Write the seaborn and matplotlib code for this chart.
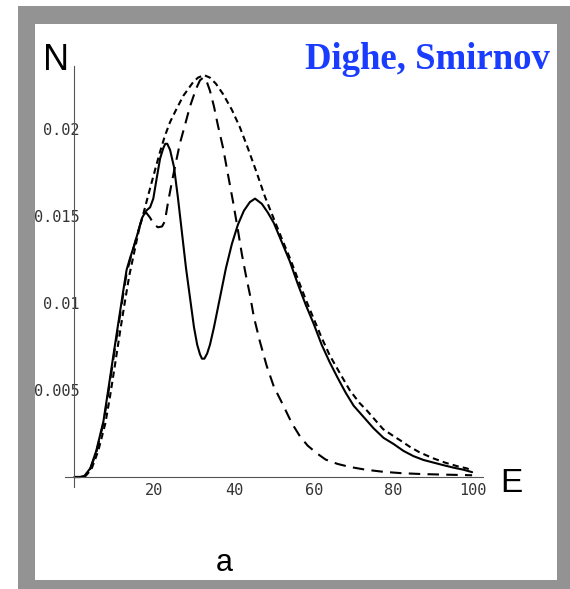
import matplotlib
matplotlib.use("Agg")
import matplotlib.pyplot as plt
from matplotlib.patches import Rectangle
from matplotlib.ticker import MultipleLocator, FixedLocator, FixedFormatter
import seaborn as sns
import pandas as pd

# ---------------- data ----------------
solid_E = [0, 1.5, 2.5, 4, 5.5, 7.3, 8.5, 9.8, 11.0, 12.2, 13.1, 14.0, 15.0, 16.0, 17.0,
           18.0, 19.0, 19.8, 20.6, 21.5, 22.3, 22.8, 23.3, 24.0, 25.0, 26.0, 27.0, 28.0,
           29.0, 30.0, 30.8, 31.5, 32.0, 32.6, 33.3, 34.0, 35.0, 36.5, 38.0, 39.5, 41.0,
           42.5, 44.0, 45.3, 47.0, 48.5, 50.0, 52.0, 54.0, 56.0, 58.0, 60.0, 62.0, 64.0,
           66.0, 68.0, 70.0, 72.5, 75.0, 77.5, 80.0, 82.5, 85.0, 87.5, 90.0, 92.5, 95.0,
           97.5, 99.7]
solid_N = [0, 0, 0.05, 0.5, 1.5, 3.2, 5.0, 7.0, 8.8, 10.6, 11.9, 12.6, 13.3, 14.1, 14.9,
           15.3, 15.5, 16.0, 17.1, 18.3, 18.9, 19.15, 19.15, 18.8, 17.8, 16.0, 14.0, 12.0,
           10.3, 8.6, 7.6, 7.05, 6.8, 6.8, 7.1, 7.6, 8.6, 10.3, 12.0, 13.4, 14.5,
           15.3, 15.8, 16.0, 15.7, 15.2, 14.6, 13.5, 12.4, 11.1, 9.9, 8.8, 7.6, 6.6,
           5.7, 4.85, 4.1, 3.45, 2.8, 2.25, 1.9, 1.5, 1.2, 0.98, 0.83, 0.68, 0.54,
           0.42, 0.28]

long_E = [0, 1.5, 2.5, 4, 5.5, 7.3, 8.5, 9.8, 11.0, 12.2, 13.1, 14.0, 15.0, 16.0, 17.0,
          18.0, 19.0, 20.0, 21.0, 22.0, 22.7, 23.5, 24.5, 25.2, 26.5, 27.7, 29.0, 30.5,
          31.5, 32.3, 33.0, 34.0, 35.0, 36.0, 37.3, 38.5, 39.8, 41.0, 42.0, 43.0, 44.0,
          45.0, 46.5, 48.2, 50.0, 52.4, 54.5, 56.6, 58.5, 60.8, 63.0, 66.0, 69.0, 73.0,
          77.4, 82.0, 87.0, 92.0, 96.0, 99.7]
long_N = [0, 0, 0.05, 0.45, 1.4, 3.1, 4.8, 6.8, 8.6, 10.4, 11.7, 12.5, 13.3, 14.1, 14.9,
          15.2, 14.9, 14.5, 14.35, 14.4, 14.7, 15.8, 17.0, 17.8, 19.2, 20.2, 21.3, 22.3,
          22.8, 22.95, 22.85, 22.2, 21.3, 20.2, 18.9, 17.4, 15.8, 14.2, 12.8, 11.6, 10.5,
          9.2, 7.8, 6.4, 5.2, 4.1, 3.1, 2.32, 1.8, 1.36, 1.0, 0.75, 0.58, 0.42,
          0.3, 0.22, 0.17, 0.14, 0.12, 0.1]

short_E = [0, 1.5, 2.8, 4.3, 6.0, 7.8, 9.0, 10.3, 11.5, 12.7, 13.8, 15.0, 16.2, 17.5,
           19.0, 20.3, 21.5, 22.7, 24.0, 25.5, 27.3, 29.8, 31.0, 32.5, 34.0, 35.5, 37.3,
           39.5, 41.5, 43.5, 45.7, 47.8, 49.9, 52.0, 54.0, 56.0, 58.0, 60.0, 62.0, 64.0,
           66.6, 69.0, 71.5, 73.3, 75.5, 77.4, 80.0, 81.6, 84.0, 86.5, 90.0, 93.0, 96.0,
           98.3, 99.8]
short_N = [0, 0, 0.05, 0.45, 1.5, 3.1, 4.7, 6.6, 8.4, 10.1, 11.6, 12.9, 14.2, 15.3,
           16.6, 17.7, 18.7, 19.6, 20.4, 21.1, 21.9, 22.7, 22.95, 23.1, 22.95, 22.6, 22.0,
           21.1, 20.1, 18.9, 17.5, 16.1, 14.9, 13.7, 12.6, 11.4, 10.2, 9.1, 8.0, 7.0,
           5.95, 5.0, 4.25, 3.83, 3.25, 2.75, 2.35, 2.12, 1.75, 1.42, 1.07, 0.82, 0.62,
           0.5, 0.38]

x_ticks = [20, 40, 60, 80, 100]
x_tick_labels = ["20", "40", "60", "80", "100"]
y_ticks = [0.005, 0.01, 0.015, 0.02]
y_tick_labels = ["0.005", "0.01", "0.015", "0.02"]

SCALE = 1e-3  # values above are in units of 10^-3

df_solid = pd.DataFrame({"E": solid_E, "N": [v * SCALE for v in solid_N]})
df_long = pd.DataFrame({"E": long_E, "N": [v * SCALE for v in long_N]})
df_short = pd.DataFrame({"E": short_E, "N": [v * SCALE for v in short_N]})

# ---------------- figure ----------------
sns.set_style("white")
W, H = 570, 589
fig = plt.figure(figsize=(W / 100, H / 100), dpi=100)
fig.patch.set_facecolor("white")

def fx(px):
    return px / W

def fy(py):
    return 1 - py / H

# gray frame (drawn beneath the axes)
fig.patches.append(Rectangle((fx(18), fy(589)), fx(570) - fx(18), fy(6) - fy(589),
                             transform=fig.transFigure, facecolor="#939393",
                             edgecolor="none", zorder=-20))
fig.patches.append(Rectangle((fx(35), fy(580)), fx(557) - fx(35), fy(24) - fy(580),
                             transform=fig.transFigure, facecolor="white",
                             edgecolor="none", zorder=-19))

# axes placement (pixel mapping: x = 74.3 + 3.99*E, y = 477 - 17400*N)
xmin, xmax = -2.3, 102.4
ymin, ymax = -0.0006, 0.0236
left_px = 74.3 + 3.99 * xmin
right_px = 74.3 + 3.99 * xmax
bot_px = 477 - 17400 * ymin
top_px = 477 - 17400 * ymax
ax = fig.add_axes([fx(left_px), fy(bot_px), fx(right_px) - fx(left_px), fy(top_px) - fy(bot_px)])
ax.set_facecolor("none")
ax.set_zorder(5)

lw = 1.5
sns.lineplot(data=df_short, x="E", y="N", ax=ax, color="black", linewidth=lw,
             linestyle=(0, (3.0, 2.0)), sort=False, estimator=None)
sns.lineplot(data=df_long, x="E", y="N", ax=ax, color="black", linewidth=lw,
             linestyle=(0, (5.5, 3.5)), sort=False, estimator=None)
sns.lineplot(data=df_solid, x="E", y="N", ax=ax, color="black", linewidth=lw,
             sort=False, estimator=None)

ax.set_xlim(xmin, xmax)
ax.set_ylim(ymin, ymax)
ax.set_xlabel("")
ax.set_ylabel("")

for s in ["top", "right"]:
    ax.spines[s].set_visible(False)
for s in ["left", "bottom"]:
    ax.spines[s].set_position(("data", 0))
    ax.spines[s].set_color("#555555")
    ax.spines[s].set_linewidth(0.8)

ax.xaxis.set_major_locator(FixedLocator(x_ticks))
ax.xaxis.set_major_formatter(FixedFormatter(x_tick_labels))
ax.xaxis.set_minor_locator(MultipleLocator(5))
ax.yaxis.set_major_locator(FixedLocator(y_ticks))
ax.yaxis.set_major_formatter(FixedFormatter(y_tick_labels))
ax.yaxis.set_minor_locator(MultipleLocator(0.001))

ax.tick_params(axis="both", which="both", direction="in", color="#555555",
               labelcolor="#333333")
ax.tick_params(axis="both", which="major", length=4, width=0.7)
ax.tick_params(axis="both", which="minor", length=3.5, width=0.6)
ax.tick_params(axis="x", which="major", pad=4)
ax.tick_params(axis="y", which="major", pad=-4)
for lab in ax.get_xticklabels() + ax.get_yticklabels():
    lab.set_family("DejaVu Sans Mono")
    lab.set_fontsize(11)

# texts
fig.text(fx(43), fy(70), "N", family="Liberation Sans", fontsize=26,
         ha="left", va="baseline", color="black")
fig.text(fx(500), fy(492), "E", family="Liberation Sans", fontsize=24,
         ha="left", va="baseline", color="black")
fig.text(fx(216), fy(571), "a", family="Liberation Sans", fontsize=22,
         ha="left", va="baseline", color="black")
fig.text(fx(305), fy(69), "Dighe, Smirnov", family="Liberation Serif",
         fontweight="bold", fontsize=26.5, color="#1a3cff", ha="left", va="baseline")

fig.savefig("out.png", dpi=100)
